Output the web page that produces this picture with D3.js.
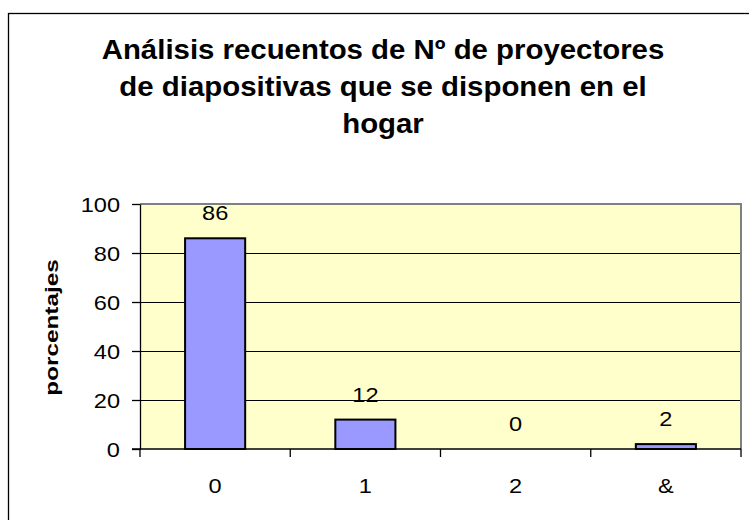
<!DOCTYPE html>
<html>
<head>
<meta charset="utf-8">
<script src="https://cdn.jsdelivr.net/npm/d3@7"></script>
<style>
  html, body { margin: 0; padding: 0; background: #ffffff; }
  svg { display: block; }
  text { font-family: Arial, "Liberation Sans", Helvetica, sans-serif; fill: #000; }
</style>
</head>
<body>
<svg id="chart" width="749" height="520"></svg>
<script>
// Number of slide projectors per household (percentages)
const categories = ["0", "1", "2", "&"];
const percentages = [86, 12, 0, 2];
const yTicks = [0, 20, 40, 60, 80, 100];
const titleLines = [
  "Análisis recuentos de Nº de proyectores",
  "de diapositivas que se disponen en el",
  "hogar"
];
const yAxisTitle = "porcentajes";

const svg = d3.select("#chart");
const W = 749, H = 520;
const plot = { left: 140, right: 741, top: 204, bottom: 449 };
const stretch = 1.18; // glyphs in this chart are drawn a little wider than tall

// outer chart frame (continues past the right and bottom edges)
svg.append("rect")
  .attr("x", 8.5).attr("y", 13.5)
  .attr("width", W + 10).attr("height", H + 10)
  .attr("fill", "#ffffff")
  .attr("stroke", "#000").attr("stroke-width", 1.3);

// title
const title = svg.append("g");
titleLines.forEach((line, i) => {
  title.append("text")
    .attr("transform", `translate(383,${59 + i * 37}) scale(1.05,1)`)
    .attr("text-anchor", "middle")
    .attr("font-size", 28)
    .attr("font-weight", "bold")
    .text(line);
});

const x = d3.scaleBand()
  .domain(categories)
  .range([plot.left, plot.right])
  .paddingInner(0.6)
  .paddingOuter(0.3);

const y = d3.scaleLinear()
  .domain([0, 100])
  .range([plot.bottom, plot.top]);

// plot background
svg.append("rect")
  .attr("x", plot.left).attr("y", plot.top)
  .attr("width", plot.right - plot.left)
  .attr("height", plot.bottom - plot.top)
  .attr("fill", "#FFFFCC");

// gridlines
svg.append("g")
  .selectAll("line")
  .data(yTicks.filter(t => t > 0 && t < 100))
  .join("line")
  .attr("x1", plot.left).attr("x2", plot.right)
  .attr("y1", d => Math.round(y(d)) + 0.5).attr("y2", d => Math.round(y(d)) + 0.5)
  .attr("stroke", "#000").attr("stroke-width", 1);

// gray frame on top and right of the plot area
svg.append("path")
  .attr("d", `M${plot.left},${plot.top} H${plot.right} V${plot.bottom}`)
  .attr("fill", "none")
  .attr("stroke", "#808080").attr("stroke-width", 2);

// bars
svg.append("g")
  .selectAll("rect")
  .data(categories.map((c, i) => ({ c, v: percentages[i] })))
  .join("rect")
  .attr("x", d => x(d.c))
  .attr("width", x.bandwidth())
  .attr("y", d => y(d.v))
  .attr("height", d => y(0) - y(d.v))
  .attr("fill", "#9999FF")
  .attr("stroke", "#000").attr("stroke-width", 2);

// value labels
svg.append("g")
  .selectAll("text")
  .data(categories.map((c, i) => ({ c, v: percentages[i] })))
  .join("text")
  .attr("transform", d => `translate(${x(d.c) + x.bandwidth() / 2},${y(d.v) - 18}) scale(${stretch},1)`)
  .attr("text-anchor", "middle")
  .attr("font-size", 20)
  .text(d => d.v);

// y axis
const yAxis = svg.append("g")
  .attr("transform", `translate(${plot.left},0)`)
  .call(d3.axisLeft(y).tickValues(yTicks).tickSize(8).tickPadding(12).tickSizeOuter(0));
yAxis.select(".domain").attr("stroke", "#000").attr("stroke-width", 1.3);
yAxis.selectAll(".tick line").attr("stroke", "#000").attr("stroke-width", 1.3);
// right-aligned at x = plot.left - 20 after the horizontal stretch
yAxis.selectAll(".tick text")
  .attr("font-size", 20)
  .attr("font-family", "Arial, 'Liberation Sans', sans-serif")
  .attr("fill", "#000")
  .attr("dy", "0.36em")
  .attr("x", -20 / stretch)
  .attr("transform", `scale(${stretch},1)`);

// x axis: labels at band centres, ticks at band boundaries
const xAxis = svg.append("g")
  .attr("transform", `translate(0,${plot.bottom})`)
  .call(d3.axisBottom(x).tickSize(0).tickPadding(0).tickSizeOuter(0));
xAxis.select(".domain").remove();
xAxis.selectAll(".tick text")
  .attr("font-size", 20)
  .attr("font-family", "Arial, 'Liberation Sans', sans-serif")
  .attr("fill", "#000")
  .attr("y", 44).attr("dy", 0)
  .attr("transform", `scale(${stretch},1)`)
  .attr("x", 0);

const boundaries = d3.range(categories.length + 1).map(i => plot.left + i * (plot.right - plot.left) / categories.length);
svg.append("line")
  .attr("x1", plot.left - 8).attr("x2", plot.right)
  .attr("y1", plot.bottom).attr("y2", plot.bottom)
  .attr("stroke", "#000").attr("stroke-width", 1.3);
svg.append("g")
  .selectAll("line")
  .data(boundaries)
  .join("line")
  .attr("x1", d => d).attr("x2", d => d)
  .attr("y1", plot.bottom).attr("y2", plot.bottom + 8)
  .attr("stroke", "#000").attr("stroke-width", 1.3);

// y axis title
svg.append("text")
  .attr("transform", `translate(58,${(plot.top + plot.bottom) / 2 + 1}) rotate(-90) scale(1.28,1)`)
  .attr("text-anchor", "middle")
  .attr("font-size", 19)
  .attr("font-weight", "bold")
  .text(yAxisTitle);
</script>
</body>
</html>
